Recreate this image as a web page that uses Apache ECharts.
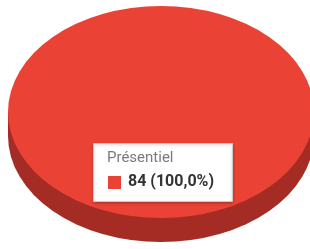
<!DOCTYPE html>
<html>
<head>
<meta charset="utf-8">
<script src="https://cdn.jsdelivr.net/npm/echarts@6/dist/echarts.min.js"></script>
<style>
  html, body { margin: 0; padding: 0; background: #fff; }
  #chart { width: 310px; height: 249px; }
</style>
</head>
<body>
<div id="chart"></div>
<script>
// données
const categories = ['Présentiel'];
const values = [84];
const colors = ['#ea4335'];
const sideColors = ['#a52c24'];

const total = values.reduce((a, b) => a + b, 0);

// géométrie du camembert 3D
const cx = 161, cy = 112, rx = 153, ry = 106, depth = 24;

const chart = echarts.init(document.getElementById('chart'), null, { renderer: 'canvas' });

function renderItem(params, api) {
  const i = params.dataIndex;
  let before = 0;
  for (let k = 0; k < i; k++) before += values[k];
  const start = -Math.PI / 2 + before / total * Math.PI * 2;
  const end = start + api.value(0) / total * Math.PI * 2;
  const sy = ry / rx;
  return {
    type: 'group',
    children: [
      // côté (épaisseur)
      {
        type: 'group', y: cy + depth, scaleY: sy, originY: 0,
        children: [{ type: 'sector', shape: { cx: cx, cy: 0, r: rx, startAngle: start, endAngle: end }, style: { fill: sideColors[i] } }]
      },
      { type: 'rect', shape: { x: cx - rx, y: cy, width: rx * 2, height: depth }, style: { fill: sideColors[i] } },
      // dessus
      {
        type: 'group', y: cy, scaleY: sy, originY: 0,
        children: [{ type: 'sector', shape: { cx: cx, cy: 0, r: rx, startAngle: start, endAngle: end }, style: { fill: colors[i] } }]
      }
    ]
  };
}

const pct = (values[0] / total * 100).toFixed(1).replace('.', ',');

chart.setOption({
  animation: false,
  series: [{
    type: 'custom',
    coordinateSystem: 'none',
    renderItem: renderItem,
    data: values.map(v => [v])
  }],
  graphic: [
    {
      type: 'rect', shape: { x: 93.5, y: 143.5, width: 139, height: 58 },
      style: { fill: '#fff', stroke: '#cccccc', lineWidth: 1, shadowBlur: 3, shadowColor: 'rgba(0,0,0,0.25)', shadowOffsetY: 1 },
      z: 10
    },
    {
      type: 'text', x: 107, y: 151,
      style: { text: categories[0], fill: '#7a7a7a', fontSize: 15, fontFamily: 'Roboto' }, z: 11
    },
    {
      type: 'rect', shape: { x: 108, y: 176, width: 13, height: 13 },
      style: { fill: colors[0] }, z: 11
    },
    {
      type: 'text', x: 128, y: 174,
      style: { text: values[0] + ' (' + pct + '%)', fill: '#333', fontSize: 16, fontWeight: 'bold', fontFamily: 'Roboto' }, z: 11
    }
  ]
});
</script>
</body>
</html>
